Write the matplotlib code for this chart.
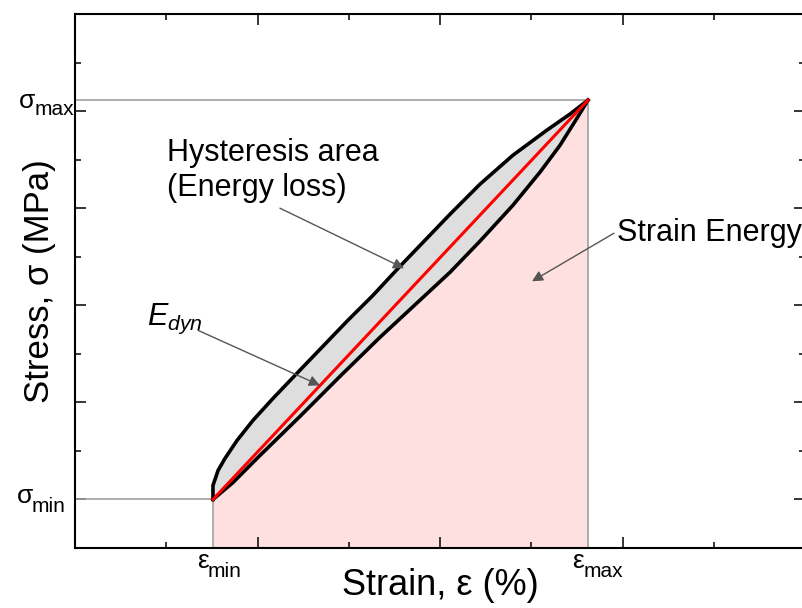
import matplotlib
matplotlib.use('Agg')
import matplotlib.pyplot as plt
from matplotlib.ticker import MultipleLocator

plt.rcParams['font.family'] = ['Liberation Sans', 'DejaVu Sans']
plt.rcParams['mathtext.fontset'] = 'custom'
plt.rcParams['mathtext.rm'] = 'Liberation Sans'
plt.rcParams['mathtext.it'] = 'Liberation Sans:italic'

# end points of the cycle (arbitrary units)
eps_min, eps_max = 0.756, 2.811
sig_min, sig_max = 0.0, 4.113

# upper branch of the loop
upper_eps = [0.756, 0.756, 0.784, 0.822, 0.888, 0.975, 1.085, 1.216, 1.353,
             1.490, 1.633, 1.781, 1.918, 2.055, 2.219, 2.400, 2.586, 2.712, 2.811]
upper_sig = [0.000, 0.144, 0.299, 0.423, 0.608, 0.814, 1.041, 1.299, 1.567,
             1.835, 2.103, 2.402, 2.670, 2.938, 3.247, 3.546, 3.804, 3.969, 4.113]

# lower branch of the loop
lower_eps = [0.756, 0.866, 1.014, 1.233, 1.452, 1.671, 1.890, 2.055, 2.219,
             2.400, 2.548, 2.658, 2.751, 2.811]
lower_sig = [0.000, 0.175, 0.454, 0.856, 1.268, 1.670, 2.052, 2.340, 2.660,
             3.031, 3.371, 3.649, 3.928, 4.113]

x_lim = (0, 4)
y_lim = (-0.5, 5)

fig = plt.figure(figsize=(8.02, 6.08), dpi=100)
ax = fig.add_axes([75/802, 60/608, 730/802, 534/608])
ax.set_xlim(*x_lim)
ax.set_ylim(*y_lim)

# strain energy (area under the loading curve)
ax.fill_between(lower_eps, lower_sig, y_lim[0], color='#ffe0e0', lw=0, zorder=1)
# hysteresis area
ax.fill(upper_eps + lower_eps[::-1], upper_sig + lower_sig[::-1],
        color='#dedede', lw=0, zorder=1)

# guide lines
g = dict(color='#a0a0a0', lw=1.2, zorder=2)
ax.plot([x_lim[0], eps_max], [sig_max, sig_max], **g)
ax.plot([eps_max, eps_max], [y_lim[0], sig_max], **g)
ax.plot([x_lim[0], eps_min], [sig_min, sig_min], **g)
ax.plot([eps_min, eps_min], [y_lim[0], sig_min], **g)

ax.plot(upper_eps, upper_sig, color='black', lw=2.6, zorder=3)
ax.plot(lower_eps, lower_sig, color='black', lw=2.6, zorder=3)
ax.plot([eps_min, eps_max], [sig_min, sig_max], color='red', lw=2.2, zorder=4)

# ticks on all sides, no numbers
ax.xaxis.set_major_locator(MultipleLocator(1))
ax.xaxis.set_minor_locator(MultipleLocator(0.5))
ax.yaxis.set_major_locator(MultipleLocator(1))
ax.yaxis.set_minor_locator(MultipleLocator(0.5))
ax.tick_params(which='both', direction='in', top=True, right=True,
               labelbottom=False, labelleft=False, width=1.1)
ax.tick_params(which='major', length=8)
ax.tick_params(which='minor', length=4)
for s in ax.spines.values():
    s.set_linewidth(1.5)

# end point labels
yt = ax.get_yaxis_transform()
xt = ax.get_xaxis_transform()
fg, fs = 19, 15
ax.text(-0.055, 4.031, 'σ', transform=yt, ha='right', va='baseline', fontsize=fg)
ax.text(-0.056, 3.959, 'max', transform=yt, ha='left', va='baseline', fontsize=fs)
ax.text(-0.058, -0.041, 'σ', transform=yt, ha='right', va='baseline', fontsize=fg)
ax.text(-0.059, -0.134, 'min', transform=yt, ha='left', va='baseline', fontsize=fs)
ax.text(0.735, -0.0375, 'ε', transform=xt, ha='right', va='baseline', fontsize=fg)
ax.text(0.729, -0.054, 'min', transform=xt, ha='left', va='baseline', fontsize=fs)
ax.text(2.790, -0.0375, 'ε', transform=xt, ha='right', va='baseline', fontsize=fg)
ax.text(2.784, -0.054, 'max', transform=xt, ha='left', va='baseline', fontsize=fs)

ax.set_xlabel('Strain, ε (%)', fontsize=26)
ax.xaxis.set_label_coords(0.5, -0.038)
ax.set_ylabel('Stress, σ (MPa)', fontsize=25)
ax.yaxis.set_label_coords(-0.026, 0.5)

# annotations
arr = dict(arrowstyle='-|>', color='#555555', lw=1.0, mutation_scale=16,
           shrinkA=0, shrinkB=0)
ax.text(0.504, 3.72, 'Hysteresis area\n(Energy loss)', fontsize=22,
        ha='left', va='top', linespacing=1.2)
ax.annotate('', xy=(1.803, 2.381), xytext=(1.123, 3.0), arrowprops=arr, zorder=5)

ax.text(2.970, 2.66, 'Strain Energy', fontsize=22, ha='left', va='baseline')
ax.annotate('', xy=(2.504, 2.247), xytext=(2.953, 2.742), arrowprops=arr, zorder=5)

ax.text(0.395, 1.794, r'$E_{dyn}$', fontsize=22, ha='left', va='baseline')
ax.annotate('', xy=(1.342, 1.175), xytext=(0.674, 1.742), arrowprops=arr, zorder=5)

fig.savefig('out.png', dpi=100)
